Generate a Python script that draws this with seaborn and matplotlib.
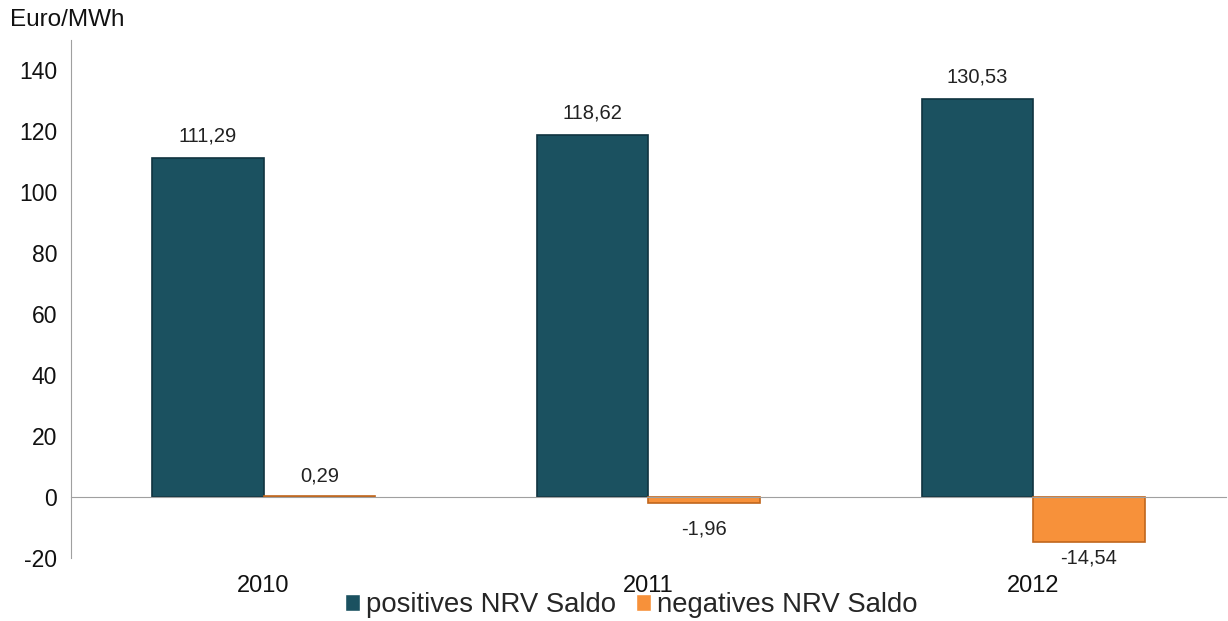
import pandas as pd
import matplotlib
matplotlib.use("Agg")
import matplotlib.pyplot as plt
import seaborn as sns
from matplotlib.ticker import FixedLocator
from matplotlib.container import BarContainer

# data
years = ["2010", "2011", "2012"]
positive = [111.29, 118.62, 130.53]
negative = [0.29, -1.96, -14.54]
series = ["positives NRV Saldo", "negatives NRV Saldo"]
colors = ["#1b5160", "#f7913a"]
edge_colors = ["#0f3440", "#c0661c"]

df = pd.DataFrame({
    "year": years * 2,
    "value": positive + negative,
    "series": [series[0]] * 3 + [series[1]] * 3,
})

sns.set_style("white")
plt.rcParams["font.family"] = ["Liberation Sans", "DejaVu Sans"]
plt.rcParams["axes.unicode_minus"] = False

fig = plt.figure(figsize=(12.28, 6.21), dpi=100)
ax = fig.add_axes([0.058, 0.101, 0.94, 0.835])

sns.barplot(data=df, x="year", y="value", hue="series", palette=colors,
            width=0.58, saturation=1, ax=ax, legend=True)

for cont, ec in zip(ax.containers, edge_colors):
    for bar in cont:
        bar.set_edgecolor(ec)
        bar.set_linewidth(1.2)

def fmt(v):
    return f"{v:.2f}".replace(".", ",")

ax.bar_label(ax.containers[0], labels=[fmt(v) for v in positive],
             padding=9, fontsize=14.5, color="#222222")

# orange labels: Excel places them a little unevenly
neg_pad = [8, 12, 5]
for bar, v, p in zip(ax.containers[1], negative, neg_pad):
    one = BarContainer([bar], datavalues=[v], orientation="vertical")
    ax.bar_label(one, labels=[fmt(v)], padding=p, fontsize=14.5, color="#222222")

ax.set_ylim(-20, 150)
ax.set_yticks(range(-20, 141, 20))
ax.set_xlim(-0.5, 2.5)
ax.set_xlabel("")
ax.set_ylabel("")

for s in ["top", "right"]:
    ax.spines[s].set_visible(False)
ax.spines["left"].set_color("#a0a0a0")
ax.spines["bottom"].set_color("#a0a0a0")
ax.spines["bottom"].set_position(("data", 0))

ax.tick_params(axis="y", which="major", direction="out", length=6, width=1,
               color="#a0a0a0", labelsize=16.5, pad=4, labelcolor="#111111")
ax.tick_params(axis="x", which="major", length=0, labelsize=17, pad=56,
               labelcolor="#111111")
ax.xaxis.set_minor_locator(FixedLocator([0.5, 1.5, 2.5]))
ax.tick_params(axis="x", which="minor", direction="out", length=6, width=1, color="#a0a0a0")

fig.text(0.008, 0.968, "Euro/MWh", fontsize=17.5, ha="left", va="center", color="#111111")

handles, labels = ax.get_legend_handles_labels()
ax.legend(handles, labels, loc="center", bbox_to_anchor=(0.514, 0.025),
          bbox_transform=fig.transFigure, ncol=2, frameon=False,
          fontsize=19.8, handlelength=0.55, handleheight=0.55,
          handletextpad=0.2, columnspacing=0.75)

fig.savefig("out.png", dpi=100)
